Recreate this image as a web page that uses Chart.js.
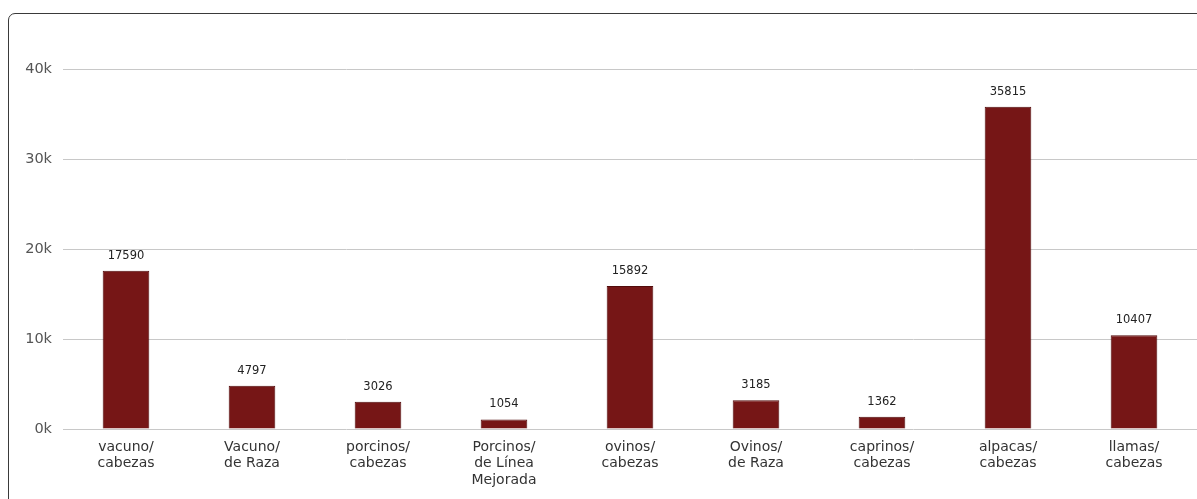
<!DOCTYPE html>
<html>
<head>
<meta charset="utf-8">
<script src="https://cdn.jsdelivr.net/npm/chart.js@4"></script>
<style>
  html, body { margin: 0; padding: 0; background: #fff; overflow: hidden; }
  .frame {
    position: absolute; left: 8px; top: 13px; width: 1260px; height: 540px;
    border: 1px solid #3a3a3a; border-radius: 7px;
  }
  canvas { position: absolute; left: 0; top: 0; }
</style>
</head>
<body>
<div class="frame"></div>
<canvas id="chart-ganado" width="1197" height="499"></canvas>
<script>
const categorias = [
    ['vacuno/', 'cabezas'],
    ['Vacuno/', 'de Raza'],
    ['porcinos/', 'cabezas'],
    ['Porcinos/', 'de Línea', 'Mejorada'],
    ['ovinos/', 'cabezas'],
    ['Ovinos/', 'de Raza'],
    ['caprinos/', 'cabezas'],
    ['alpacas/', 'cabezas'],
    ['llamas/', 'cabezas']
];
const cantidades = [17590, 4797, 3026, 1054, 15892, 3185, 1362, 35815, 10407];
const ticksY = [0, 10000, 20000, 30000, 40000];

// Etiquetas encima de cada barra
const etiquetasBarras = {
    id: 'etiquetasBarras',
    afterDatasetsDraw(chart) {
        const ctx = chart.ctx;
        const meta = chart.getDatasetMeta(0);
        ctx.save();
        ctx.font = '11.5px "DejaVu Sans", Verdana, sans-serif';
        ctx.fillStyle = '#222';
        ctx.textAlign = 'center';
        ctx.textBaseline = 'middle';
        meta.data.forEach((bar, i) => {
            ctx.fillText(String(cantidades[i]), bar.x, bar.y - 15);
        });
        ctx.restore();
    }
};

const ctx = document.getElementById('chart-ganado').getContext('2d');
new Chart(ctx, {
    type: 'bar',
    data: {
        labels: categorias,
        datasets: [{
            data: cantidades,
            backgroundColor: '#761616',
            borderColor: '#520c0c',
            borderWidth: 1,
            barPercentage: 0.74,
            categoryPercentage: 0.5
        }]
    },
    options: {
        responsive: false,
        animation: false,
        layout: { padding: { top: 69, right: 0, left: 0, bottom: 0 } },
        plugins: {
            legend: { display: false },
            tooltip: { enabled: false }
        },
        scales: {
            x: {
                grid: { display: false },
                border: { display: false },
                afterFit: s => { s.height = 70; },
                ticks: {
                    padding: 2,
                    maxRotation: 0,
                    autoSkip: false,
                    color: '#333',
                    font: { family: '"DejaVu Sans", Verdana, sans-serif', size: 14, lineHeight: 1.18 }
                }
            },
            y: {
                min: 0,
                max: 40000,
                afterFit: s => { s.width = 63; },
                afterBuildTicks: s => { s.ticks = ticksY.map(v => ({ value: v })); },
                grid: { color: '#c8c8c8', drawTicks: false },
                border: { display: false },
                ticks: {
                    padding: 11,
                    color: '#555',
                    font: { family: '"DejaVu Sans", Verdana, sans-serif', size: 14.5 },
                    callback: v => (v / 1000) + 'k'
                }
            }
        }
    },
    plugins: [etiquetasBarras]
});
</script>
</body>
</html>
